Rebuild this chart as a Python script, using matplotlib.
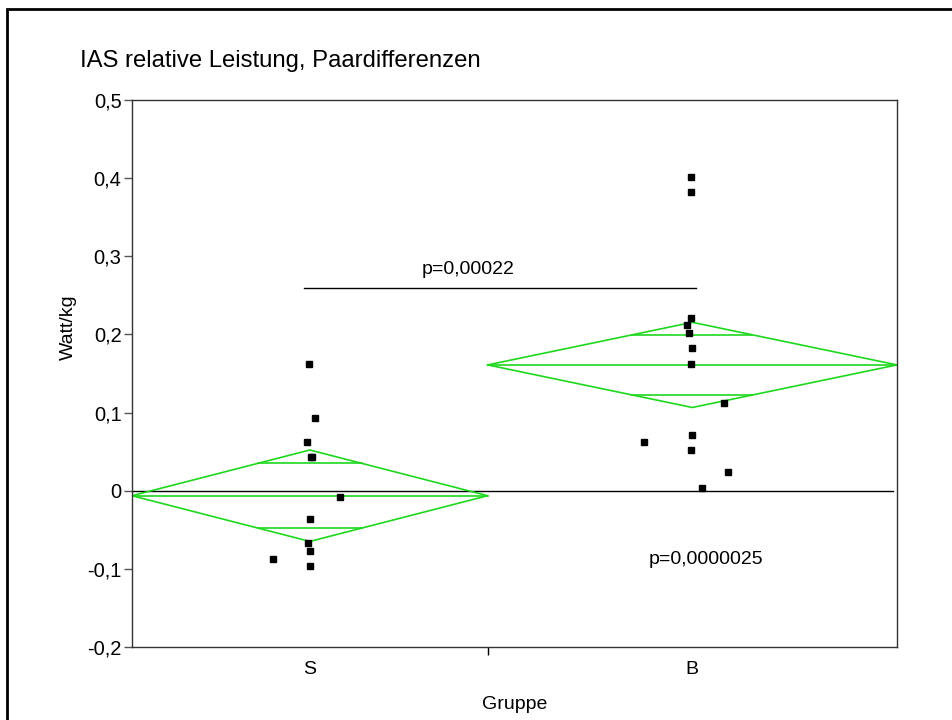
import numpy as np
import matplotlib as mpl
mpl.use('Agg')
import matplotlib.pyplot as plt
from matplotlib.patches import Rectangle

# groups and their share of the x axis (JMP scales width by group size)
groups      = ['S', 'B']
group_edges = [0.0, 0.465, 1.0]

# group means and 95% CI half widths (means diamonds)
means   = [-0.0064, 0.161]
ci_half = [0.0585, 0.0545]

# individual pair differences (Watt/kg) and their horizontal jitter (axis fraction)
s_vals   = [0.1625, 0.0926, 0.0627, 0.0427, 0.0427, -0.0077, -0.0362, -0.0673, -0.0776, -0.0874, -0.0964]
s_jitter = [-0.0013, 0.007, -0.0043, 0.0009, 0.0029, 0.040, 0.0, -0.0026, 0.0005, -0.0483, 0.0005]
b_vals   = [0.4015, 0.3819, 0.221, 0.2117, 0.2014, 0.1822, 0.1625, 0.1122, 0.0627, 0.0717, 0.0521, 0.0235, 0.003]
b_jitter = [-0.0017, -0.0017, -0.0017, -0.0073, -0.0043, -0.0008, -0.0017, 0.041, -0.063, -0.0004, -0.0017, 0.0466, 0.0127]

yticks      = [-0.2, -0.1, 0, 0.1, 0.2, 0.3, 0.4, 0.5]
ytick_names = ['-0,2', '-0,1', '0', '0,1', '0,2', '0,3', '0,4', '0,5']

p_between = 'p=0,00022'
p_zero    = 'p=0,0000025'
p_line_y  = 0.26

plt.rcParams['font.family'] = ['Liberation Sans', 'DejaVu Sans']
green = '#1ed81e'
fs = 14

fig = plt.figure(figsize=(9.53, 7.2), dpi=100)
ax = fig.add_axes([0.1385, 0.1014, 0.8027, 0.7597])
ax.set_xlim(0, 1)
ax.set_ylim(-0.2, 0.5)

# zero reference line
ax.plot([0, 0.995], [0, 0], color='black', lw=1, zorder=1)

# means diamonds
for i in range(len(groups)):
	x0, x1 = group_edges[i], group_edges[i+1]
	xc = (x0 + x1) / 2
	m, c = means[i], ci_half[i]
	ax.plot([x0, xc, x1, xc, x0], [m, m + c, m, m - c, m], color=green, lw=1.2, zorder=2)
	ax.plot([x0, x1], [m, m], color=green, lw=1.2, zorder=2)
	# overlap marks at mean +- ci/sqrt(2)
	d = c / np.sqrt(2)
	hw = (x1 - x0) / 2 * (1 - d / c)
	for yy in (m + d, m - d):
		ax.plot([xc - hw, xc + hw], [yy, yy], color=green, lw=1.2, zorder=2)

# points
centers = [(group_edges[i] + group_edges[i+1]) / 2 for i in range(len(groups))]
for vals, jit, xc in ((s_vals, s_jitter, centers[0]), (b_vals, b_jitter, centers[1])):
	ax.plot(xc + np.array(jit), vals, 's', color='black', ms=4, zorder=3)

# p-value annotations
ax.plot([centers[0] - 0.008, centers[1] + 0.005], [p_line_y, p_line_y], color='black', lw=1)
ax.text(0.44, 0.283, p_between, ha='center', va='center', fontsize=fs)
ax.text(0.75, -0.088, p_zero, ha='center', va='center', fontsize=fs)

# axes styling
for sp in ax.spines.values():
	sp.set_color('#333333')
	sp.set_linewidth(1)
ax.set_yticks(yticks)
ax.set_yticklabels(ytick_names, fontsize=fs + 0.5)
ax.tick_params(axis='y', direction='out', length=5.5, width=1, pad=2, color='#555555')
ax.set_xticks([group_edges[1]])
ax.set_xticklabels([''])
ax.tick_params(axis='x', which='major', direction='out', length=6, width=1)
ax.set_xticks(centers, minor=True)
ax.set_xticklabels(groups, minor=True, fontsize=fs)
ax.tick_params(axis='x', which='minor', length=0, pad=10)

ax.set_xlabel('Gruppe', fontsize=fs, labelpad=13)
ax.set_ylabel('Watt/kg', fontsize=fs)
ax.yaxis.set_label_coords(-0.072, 0.585)

fig.text(0.084, 0.907, 'IAS relative Leistung, Paardifferenzen', fontsize=17.2, ha='left', va='baseline')

# outer frame, cut by the right and bottom of the image
fig.add_artist(Rectangle((7 / 953, -0.2), 2.0, 1.2 - 9 / 720, transform=fig.transFigure,
                         fill=False, edgecolor='black', lw=2, clip_on=False))

fig.savefig('out.png', dpi=100)
